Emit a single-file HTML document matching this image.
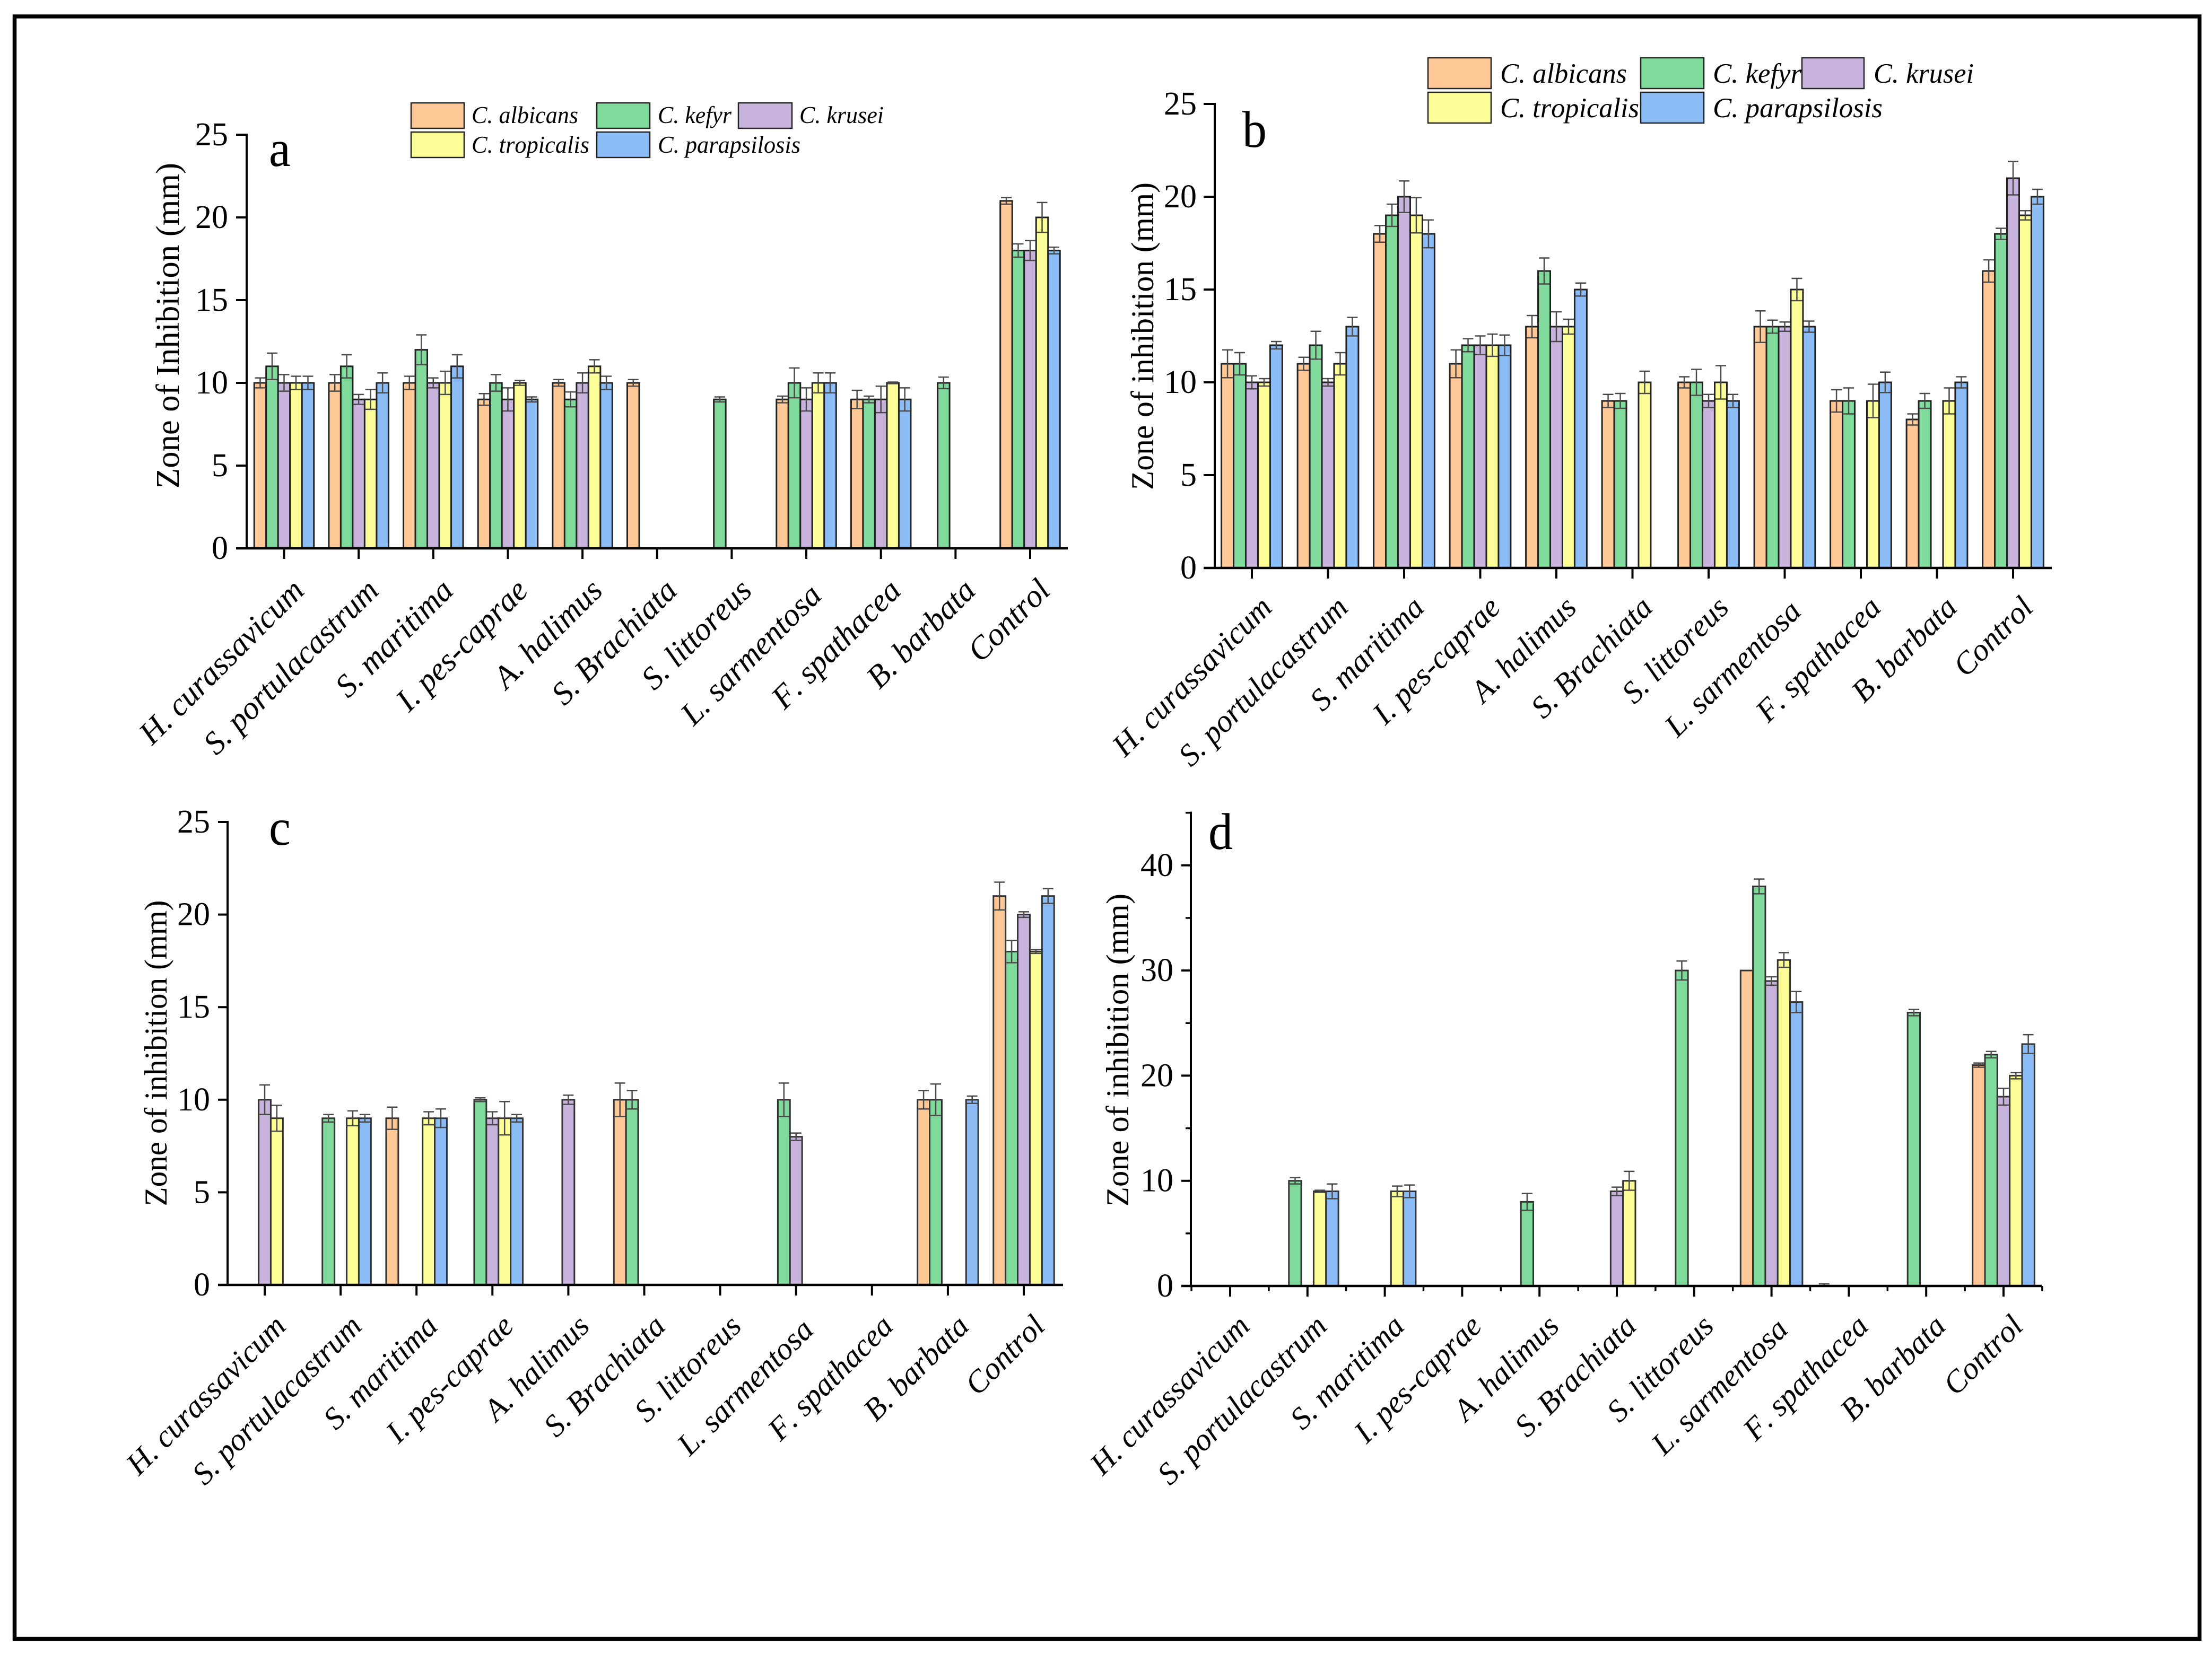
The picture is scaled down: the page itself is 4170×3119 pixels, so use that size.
<!DOCTYPE html>
<html lang="en">
<head>
<meta charset="utf-8">
<title>Zone of inhibition bar charts</title>
<style>
  html, body { margin: 0; padding: 0; background: #fff; }
  svg { display: block; }
  text { font-family: "Liberation Serif", serif; fill: #000; font-kerning: none; }
</style>
</head>
<body>
<svg id="figure" xmlns="http://www.w3.org/2000/svg" width="4170" height="3119" viewBox="0 0 4170 3119">
  <rect x="0" y="0" width="4170" height="3119" fill="#fff"/>
  <rect x="27.5" y="31" width="4119" height="3059.5" fill="none" stroke="#000" stroke-width="7.5"/>
</svg>
<script>
const categories = ["H. curassavicum", "S. portulacastrum", "S. maritima", "I. pes-caprae", "A. halimus", "S. Brachiata", "S. littoreus", "L. sarmentosa", "F. spathacea", "B. barbata", "Control"];
const speciesNames = ["C. albicans", "C. kefyr", "C. krusei", "C. tropicalis", "C. parapsilosis"];
const speciesKeys = ["albicans", "kefyr", "krusei", "tropicalis", "parapsilosis"];
const speciesColors = ["#FFC896", "#80DA9B", "#C8B3DC", "#FEFE99", "#8CBCF5"];

const yTicks25 = [0, 5, 10, 15, 20, 25];
const yTicks45 = [0, 10, 20, 30, 40];
const yMinor45 = [5, 15, 25, 35, 45];

/* Panel a values */
const aAlbicans = [10, 10, 10, 9, 10, 10, 0, 9, 9, 0, 21];
const aKefyr = [11, 11, 12, 10, 9, 0, 9, 10, 9, 10, 18];
const aKrusei = [10, 9, 10, 9, 10, 0, 0, 9, 9, 0, 18];
const aTropicalis = [10, 9, 10, 10, 11, 0, 0, 10, 10, 0, 20];
const aParapsilosis = [10, 10, 11, 9, 10, 0, 0, 10, 9, 0, 18];
const aAlbicansErr = [0.3, 0.5, 0.4, 0.35, 0.2, 0.2, 0, 0.2, 0.55, 0, 0.2];
const aKefyrErr = [0.8, 0.7, 0.9, 0.5, 0.45, 0, 0.15, 0.9, 0.2, 0.35, 0.4];
const aKruseiErr = [0.5, 0.3, 0.3, 0.7, 0.6, 0, 0, 0.7, 0.8, 0, 0.6];
const aTropicalisErr = [0.4, 0.6, 0.7, 0.15, 0.4, 0, 0, 0.6, 0.05, 0, 0.9];
const aParapsilosisErr = [0.4, 0.6, 0.7, 0.15, 0.4, 0, 0, 0.6, 0.7, 0, 0.2];

/* Panel b values */
const bAlbicans = [11, 11, 18, 11, 13, 9, 10, 13, 9, 8, 16];
const bKefyr = [11, 12, 19, 12, 16, 9, 10, 13, 9, 9, 18];
const bKrusei = [10, 10, 20, 12, 13, 0, 9, 13, 0, 0, 21];
const bTropicalis = [10, 11, 19, 12, 13, 10, 10, 15, 9, 9, 19];
const bParapsilosis = [12, 13, 18, 12, 15, 0, 9, 13, 10, 10, 20];
const bAlbicansErr = [0.75, 0.35, 0.45, 0.75, 0.6, 0.35, 0.3, 0.85, 0.6, 0.3, 0.6];
const bKefyrErr = [0.6, 0.75, 0.6, 0.35, 0.7, 0.4, 0.7, 0.35, 0.7, 0.4, 0.3];
const bKruseiErr = [0.35, 0.2, 0.85, 0.5, 0.8, 0, 0.35, 0.25, 0, 0, 0.9];
const bTropicalisErr = [0.2, 0.6, 0.95, 0.6, 0.4, 0.6, 0.9, 0.6, 0.9, 0.7, 0.25];
const bParapsilosisErr = [0.2, 0.5, 0.75, 0.55, 0.35, 0, 0.35, 0.3, 0.55, 0.3, 0.4];

/* Panel c values */
const cAlbicans = [0, 0, 9, 0, 0, 10, 0, 0, 0, 10, 21];
const cKefyr = [0, 9, 0, 10, 0, 10, 0, 10, 0, 10, 18];
const cKrusei = [10, 0, 0, 9, 10, 0, 0, 8, 0, 0, 20];
const cTropicalis = [9, 9, 9, 9, 0, 0, 0, 0, 0, 0, 18];
const cParapsilosis = [0, 9, 9, 9, 0, 0, 0, 0, 0, 10, 21];
const cAlbicansErr = [0, 0, 0.6, 0, 0, 0.9, 0, 0, 0, 0.5, 0.75];
const cKefyrErr = [0, 0.2, 0, 0.1, 0, 0.5, 0, 0.9, 0, 0.85, 0.6];
const cKruseiErr = [0.8, 0, 0, 0.35, 0.25, 0, 0, 0.2, 0, 0, 0.15];
const cTropicalisErr = [0.7, 0.4, 0.35, 0.9, 0, 0, 0, 0, 0, 0, 0.1];
const cParapsilosisErr = [0, 0.2, 0.5, 0.2, 0, 0, 0, 0, 0, 0.2, 0.4];

/* Panel d values */
const dAlbicans = [0, 0, 0, 0, 0, 0, 0, 30, 0, 0, 21];
const dKefyr = [0, 10, 0, 0, 8, 0, 30, 38, 0, 26, 22];
const dKrusei = [0, 0, 0, 0, 0, 9, 0, 29, 0, 0, 18];
const dTropicalis = [0, 9, 9, 0, 0, 10, 0, 31, 0, 0, 20];
const dParapsilosis = [0, 9, 9, 0, 0, 0, 0, 27, 0, 0, 23];
const dAlbicansErr = [0, 0, 0, 0, 0, 0, 0, 0, 0.2, 0, 0.2];
const dKefyrErr = [0, 0.3, 0, 0, 0.8, 0, 0.9, 0.7, 0, 0.3, 0.3];
const dKruseiErr = [0, 0, 0, 0, 0, 0.4, 0, 0.4, 0, 0, 0.8];
const dTropicalisErr = [0, 0.1, 0.5, 0, 0, 0.9, 0, 0.7, 0, 0, 0.3];
const dParapsilosisErr = [0, 0.7, 0.6, 0, 0, 0, 0, 1.0, 0, 0, 0.9];

const NS = "http://www.w3.org/2000/svg";
const svg = document.getElementById("figure");

function mk(tag, attrs, parent) {
  const el = document.createElementNS(NS, tag);
  for (const k in attrs) el.setAttribute(k, attrs[k]);
  parent.appendChild(el);
  return el;
}

function drawPanel(p) {
  const g = mk("g", {}, svg);
  
  

  const xScale = (cat, slot) => p.x0 + p.dx * cat + slot * p.dx * 0.16;
  const yScale = (v) => p.y0 - v * p.ppu;
  const bw = p.dx * 0.16;

  /* bars */
  p.values.forEach((series, s) => {
    series.forEach((v, c) => {
      if (v <= 0) return;
      const left = xScale(c, s - 2.5);
      const bar = mk("rect", { x: left, y: yScale(v), width: bw, height: p.y0 - yScale(v), fill: speciesColors[s], stroke: p.barStroke, "stroke-width": 3 }, g);
      
      
    });
  });

  /* error bars */
  p.errors.forEach((series, s) => {
    series.forEach((e, c) => {
      if (e <= 0) return;
      const v = p.values[s][c];
      const cx = xScale(c, s - 2);
      const hi = yScale(v + e), lo = yScale(Math.max(v - e, 0));
      const d = "M" + cx + " " + lo + "V" + hi +
        "M" + (cx - 10) + " " + hi + "H" + (cx + 10) +
        "M" + (cx - 10) + " " + lo + "H" + (cx + 10);
      const err = mk("path", { d: d, fill: "none", stroke: "#4a4a4a", "stroke-width": 2.5 }, g);
      
      
    });
  });

  /* y axis */
  const yAxis = mk("line", { x1: p.axisX, x2: p.axisX, y1: yScale(p.yMax) - 2, y2: p.y0, stroke: "#000", "stroke-width": 4 }, g);
  
  

  p.yTicks.forEach((t) => {
    const tick = mk("line", { x1: p.xLeft, x2: p.axisX, y1: yScale(t), y2: yScale(t), stroke: "#000", "stroke-width": 4 }, g);
    
    
    const label = mk("text", { x: p.yLabelX, y: yScale(t) + 20, "text-anchor": "end", "font-size": 62 }, g);
    label.textContent = String(t);
    
    
  });

  p.yMinor.forEach((t) => {
    const tick = mk("line", { x1: p.axisX - 10, x2: p.axisX, y1: yScale(t), y2: yScale(t), stroke: "#000", "stroke-width": 3.5 }, g);
    
    
  });

  /* x axis */
  const xAxis = mk("line", { x1: p.xLeft, x2: p.xRight, y1: p.y0, y2: p.y0, stroke: "#000", "stroke-width": 4.5 }, g);
  
  

  categories.forEach((name, c) => {
    const cx = xScale(c, 0);
    const tick = mk("line", { x1: cx, x2: cx, y1: p.y0, y2: p.y0 + 20, stroke: "#000", "stroke-width": 4 }, g);
    
    
    const nudge = c === 7 ? p.sarmentosaNudge : 0;
    const ax = cx + p.catDX - nudge, ay = p.y0 + p.catDY + nudge;
    const label = mk("text", { x: ax, y: ay, "text-anchor": "end", "font-size": p.catFont, "font-style": "italic", transform: "rotate(-45 " + ax + " " + ay + ")" }, g);
    label.textContent = name;
    
    
  });

  if (p.xMinor) {
    for (let c = -0.5; c <= categories.length - 0.5; c += 1) {
      const mx = xScale(c, 0);
      const tick = mk("line", { x1: mx, x2: mx, y1: p.y0, y2: p.y0 + 10, stroke: "#000", "stroke-width": 3.5 }, g);
      
      
    }
  }

  /* y title */
  const title = mk("text", { x: p.titleX, y: p.titleY, "text-anchor": "middle", "font-size": p.titleFont, textLength: p.titleLen, lengthAdjust: "spacingAndGlyphs", transform: "rotate(-90 " + p.titleX + " " + p.titleY + ")" }, g);
  title.textContent = p.title;
  
  

  /* panel letter */
  const letter = mk("text", { x: 0, y: 0, "font-size": 92, transform: "translate(" + p.letterX + " " + p.letterY + ") scale(1 1.06)" }, g);
  letter.textContent = p.id;
  
  

  /* legend */
  if (p.legend) {
    const lg = mk("g", {}, g);
    
    
    p.legend.forEach((e, s) => {
      const t = mk("text", { x: e.tx, y: e.ty, "font-size": p.legendFont, "font-style": "italic", textLength: e.tl, lengthAdjust: "spacingAndGlyphs" }, lg);
      t.textContent = speciesNames[s];
      
      
    });
    p.legend.forEach((e, s) => {
      const r = mk("rect", { x: e.x, y: e.y, width: e.w, height: e.h, fill: speciesColors[s], stroke: "#222", "stroke-width": 2.5 }, lg);
      
      
    });
  }
}

drawPanel({
  id: "a", title: "Zone of Inhibition (mm)",
  values: [aAlbicans, aKefyr, aKrusei, aTropicalis, aParapsilosis],
  errors: [aAlbicansErr, aKefyrErr, aKruseiErr, aTropicalisErr, aParapsilosisErr],
  yTicks: yTicks25, yMinor: [], yMax: 25, xMinor: false,
  axisX: 465, x0: 535.5, dx: 140.65, y0: 1034, ppu: 31.2, xLeft: 445, xRight: 2013, yLabelX: 430,
  catDX: 41, catDY: 83, catFont: 61, sarmentosaNudge: 9, barStroke: "#222",
  titleX: 337, titleY: 614, titleLen: 614, titleFont: 62,
  letterX: 507, letterY: 313, legendFont: 46,
  legend: [
    { x: 775, y: 194, w: 100, h: 48, tx: 889, ty: 232, tl: 201 },
    { x: 1125, y: 194, w: 100, h: 48, tx: 1240, ty: 232, tl: 139 },
    { x: 1392, y: 194, w: 101, h: 48, tx: 1507, ty: 232, tl: 159 },
    { x: 775, y: 249, w: 100, h: 48, tx: 889, ty: 288, tl: 222 },
    { x: 1125, y: 249, w: 100, h: 48, tx: 1240, ty: 288, tl: 269 }
  ]
});

drawPanel({
  id: "b", title: "Zone of inhibition (mm)",
  values: [bAlbicans, bKefyr, bKrusei, bTropicalis, bParapsilosis],
  errors: [bAlbicansErr, bKefyrErr, bKruseiErr, bTropicalisErr, bParapsilosisErr],
  yTicks: yTicks25, yMinor: [], yMax: 25, xMinor: false,
  axisX: 2290, x0: 2360, dx: 143.5, y0: 1071, ppu: 35, xLeft: 2269, xRight: 3868, yLabelX: 2256,
  catDX: 41, catDY: 78, catFont: 59, sarmentosaNudge: 7, barStroke: "#222",
  titleX: 2174, titleY: 634, titleLen: 580, titleFont: 60,
  letterX: 2342, letterY: 277, legendFont: 53,
  legend: [
    { x: 2692, y: 109, w: 119, h: 58, tx: 2828, ty: 156, tl: 239 },
    { x: 3093, y: 109, w: 119, h: 58, tx: 3229, ty: 156, tl: 167 },
    { x: 3397, y: 109, w: 117, h: 58, tx: 3532, ty: 156, tl: 189 },
    { x: 2692, y: 174, w: 119, h: 58, tx: 2828, ty: 221, tl: 262 },
    { x: 3093, y: 174, w: 119, h: 58, tx: 3229, ty: 221, tl: 320 }
  ]
});

drawPanel({
  id: "c", title: "Zone of inhibition (mm)",
  values: [cAlbicans, cKefyr, cKrusei, cTropicalis, cParapsilosis],
  errors: [cAlbicansErr, cKefyrErr, cKruseiErr, cTropicalisErr, cParapsilosisErr],
  yTicks: yTicks25, yMinor: [], yMax: 25, xMinor: false,
  axisX: 429, x0: 499, dx: 143.1, y0: 2423, ppu: 34.92, xLeft: 411, xRight: 2004, yLabelX: 396,
  catDX: 43, catDY: 81, catFont: 59, sarmentosaNudge: 7, barStroke: "#333",
  titleX: 314, titleY: 1986, titleLen: 577, titleFont: 60,
  letterX: 507, letterY: 1593, legendFont: 44, legend: null
});

drawPanel({
  id: "d", title: "Zone of inhibition (mm)",
  values: [dAlbicans, dKefyr, dKrusei, dTropicalis, dParapsilosis],
  errors: [dAlbicansErr, dKefyrErr, dKruseiErr, dTropicalisErr, dParapsilosisErr],
  yTicks: yTicks45, yMinor: yMinor45, yMax: 45, xMinor: true,
  axisX: 2245, x0: 2319, dx: 145.8, y0: 2425, ppu: 19.83, xLeft: 2227, xRight: 3849, yLabelX: 2212,
  catDX: 40, catDY: 79, catFont: 59, sarmentosaNudge: 6, barStroke: "#333",
  titleX: 2127, titleY: 1980, titleLen: 590, titleFont: 60,
  letterX: 2278, letterY: 1601, legendFont: 44, legend: null
});
</script>
</body>
</html>
